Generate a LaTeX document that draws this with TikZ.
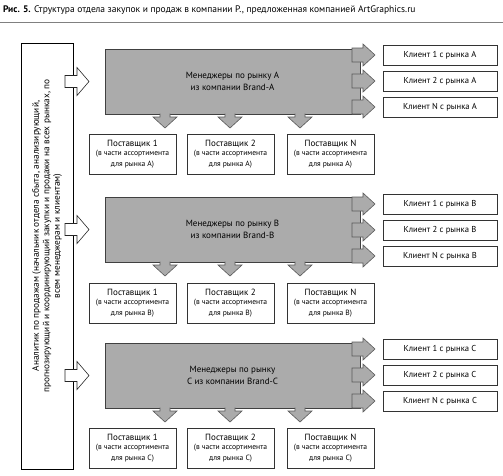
\documentclass[tikz,border=0pt]{standalone}
\usepackage{fontspec}
\setmainfont{PT Sans}
\usetikzlibrary{calc}
\begin{document}
\begin{tikzpicture}[x=1pt,y=-1pt,
  every node/.style={inner sep=0pt, outer sep=0pt},
  mgr/.style={draw=black!75, fill=black!33, line width=0.8pt, minimum width=255pt, minimum height=65pt, anchor=north west, align=center, font=\fontsize{9}{12}\selectfont},
  wbox/.style={draw=black!80, fill=white, line width=0.6pt},
  client/.style={wbox, minimum width=114pt, minimum height=20pt, anchor=north west, font=\fontsize{8.6}{10}\selectfont},
  supp/.style={wbox, minimum width=87pt, minimum height=40pt, anchor=north west, align=center, font=\fontsize{7.6}{10.5}\selectfont},
  garrow/.style={draw=black!65, fill=black!33, line width=0.6pt, line join=miter},
  warrow/.style={draw=black!85, fill=white, line width=0.6pt, line join=miter}
]
\useasboundingbox (0,0) rectangle (503,475);
% title
\node[anchor=west, font=\fontsize{9.5}{11}\selectfont] (title) at (3,10) {\textbf{Рис. 5.} Структура отдела закупок и продаж в компании Р., предложенная компанией ArtGraphics.ru};
\draw[black!50, line width=1.4pt] (0,22.5) -- (503,22.5);

% analyst box
\node[wbox, draw=black, line width=0.7pt, minimum width=52pt, minimum height=426pt, anchor=north west] (anal) at (21,43) {};
\node[rotate=90, align=center, font=\fontsize{9.3}{10.5}\selectfont] (antext) at (47,236)
 {Аналитик по продажам (начальник отдела сбыта, анализирующий,\\
  прогнозирующий и координирующий закупки и продажи на всех рынках, по\\
  всем менеджерам и клиентам)};

\foreach \L/\yb/\yc/\ys/\txt in {
  A/49/45/134/{Менеджеры по рынку A\\из компании Brand-A},
  B/197/194/283/{Менеджеры по рынку B\\из компании Brand-B},
  C/343/339/428/{Менеджеры по рынку\\C из компании Brand-C}}{
  % manager box
  \node[mgr] (m\L) at (105,\yb) {\txt};
  % clients
  \node[client] (c\L1) at (383,\yc) {Клиент 1 с рынка \L};
  \node[client] (c\L2) at (383,\yc+26) {Клиент 2 с рынка \L};
  \node[client] (c\L3) at (383,\yc+52) {Клиент N с рынка \L};
  % suppliers
  \node[supp] (s\L1) at (89,\ys) {{\fontsize{9}{10.5}\selectfont Поставщик 1}\\[-1.5pt](в части ассортимента\\для рынка \L)};
  \node[supp] (s\L2) at (187,\ys) {{\fontsize{9}{10.5}\selectfont Поставщик 2}\\[-1.5pt](в части ассортимента\\для рынка \L)};
  \node[supp] (s\L3) at (287,\ys) {{\fontsize{9}{10.5}\selectfont Поставщик N}\\[-1.5pt](в части ассортимента\\для рынка \L)};
  % right arrows to clients
  \foreach \k in {1,2,3}{
    \draw[garrow] ($(m\L.east |- c\L\k.west)+(-8,-7)$) -- ++(11,0) -- ++(0,-4) -- ++(12,11) -- ++(-12,11) -- ++(0,-4) -- ++(-11,0) -- cycle;
  }
  % down arrows to suppliers
  \foreach \dx in {55,120,190}{
    \draw[garrow] ($(m\L.south west)+(\dx,-0.4)$) -- ++(0,3.4) -- ++(-7,0) -- ++(12,11) -- ++(12,-11) -- ++(-7,0) -- ++(0,-3.4);
  }
  % white arrow from analyst
  \draw[warrow] ($(anal.east |- m\L.west)+(-8,-6)$) -- ++(12,0) -- ++(0,-8) -- ++(12,14) -- ++(-12,14) -- ++(0,-8) -- ++(-12,0) -- cycle;
}
\end{tikzpicture}
\end{document}
